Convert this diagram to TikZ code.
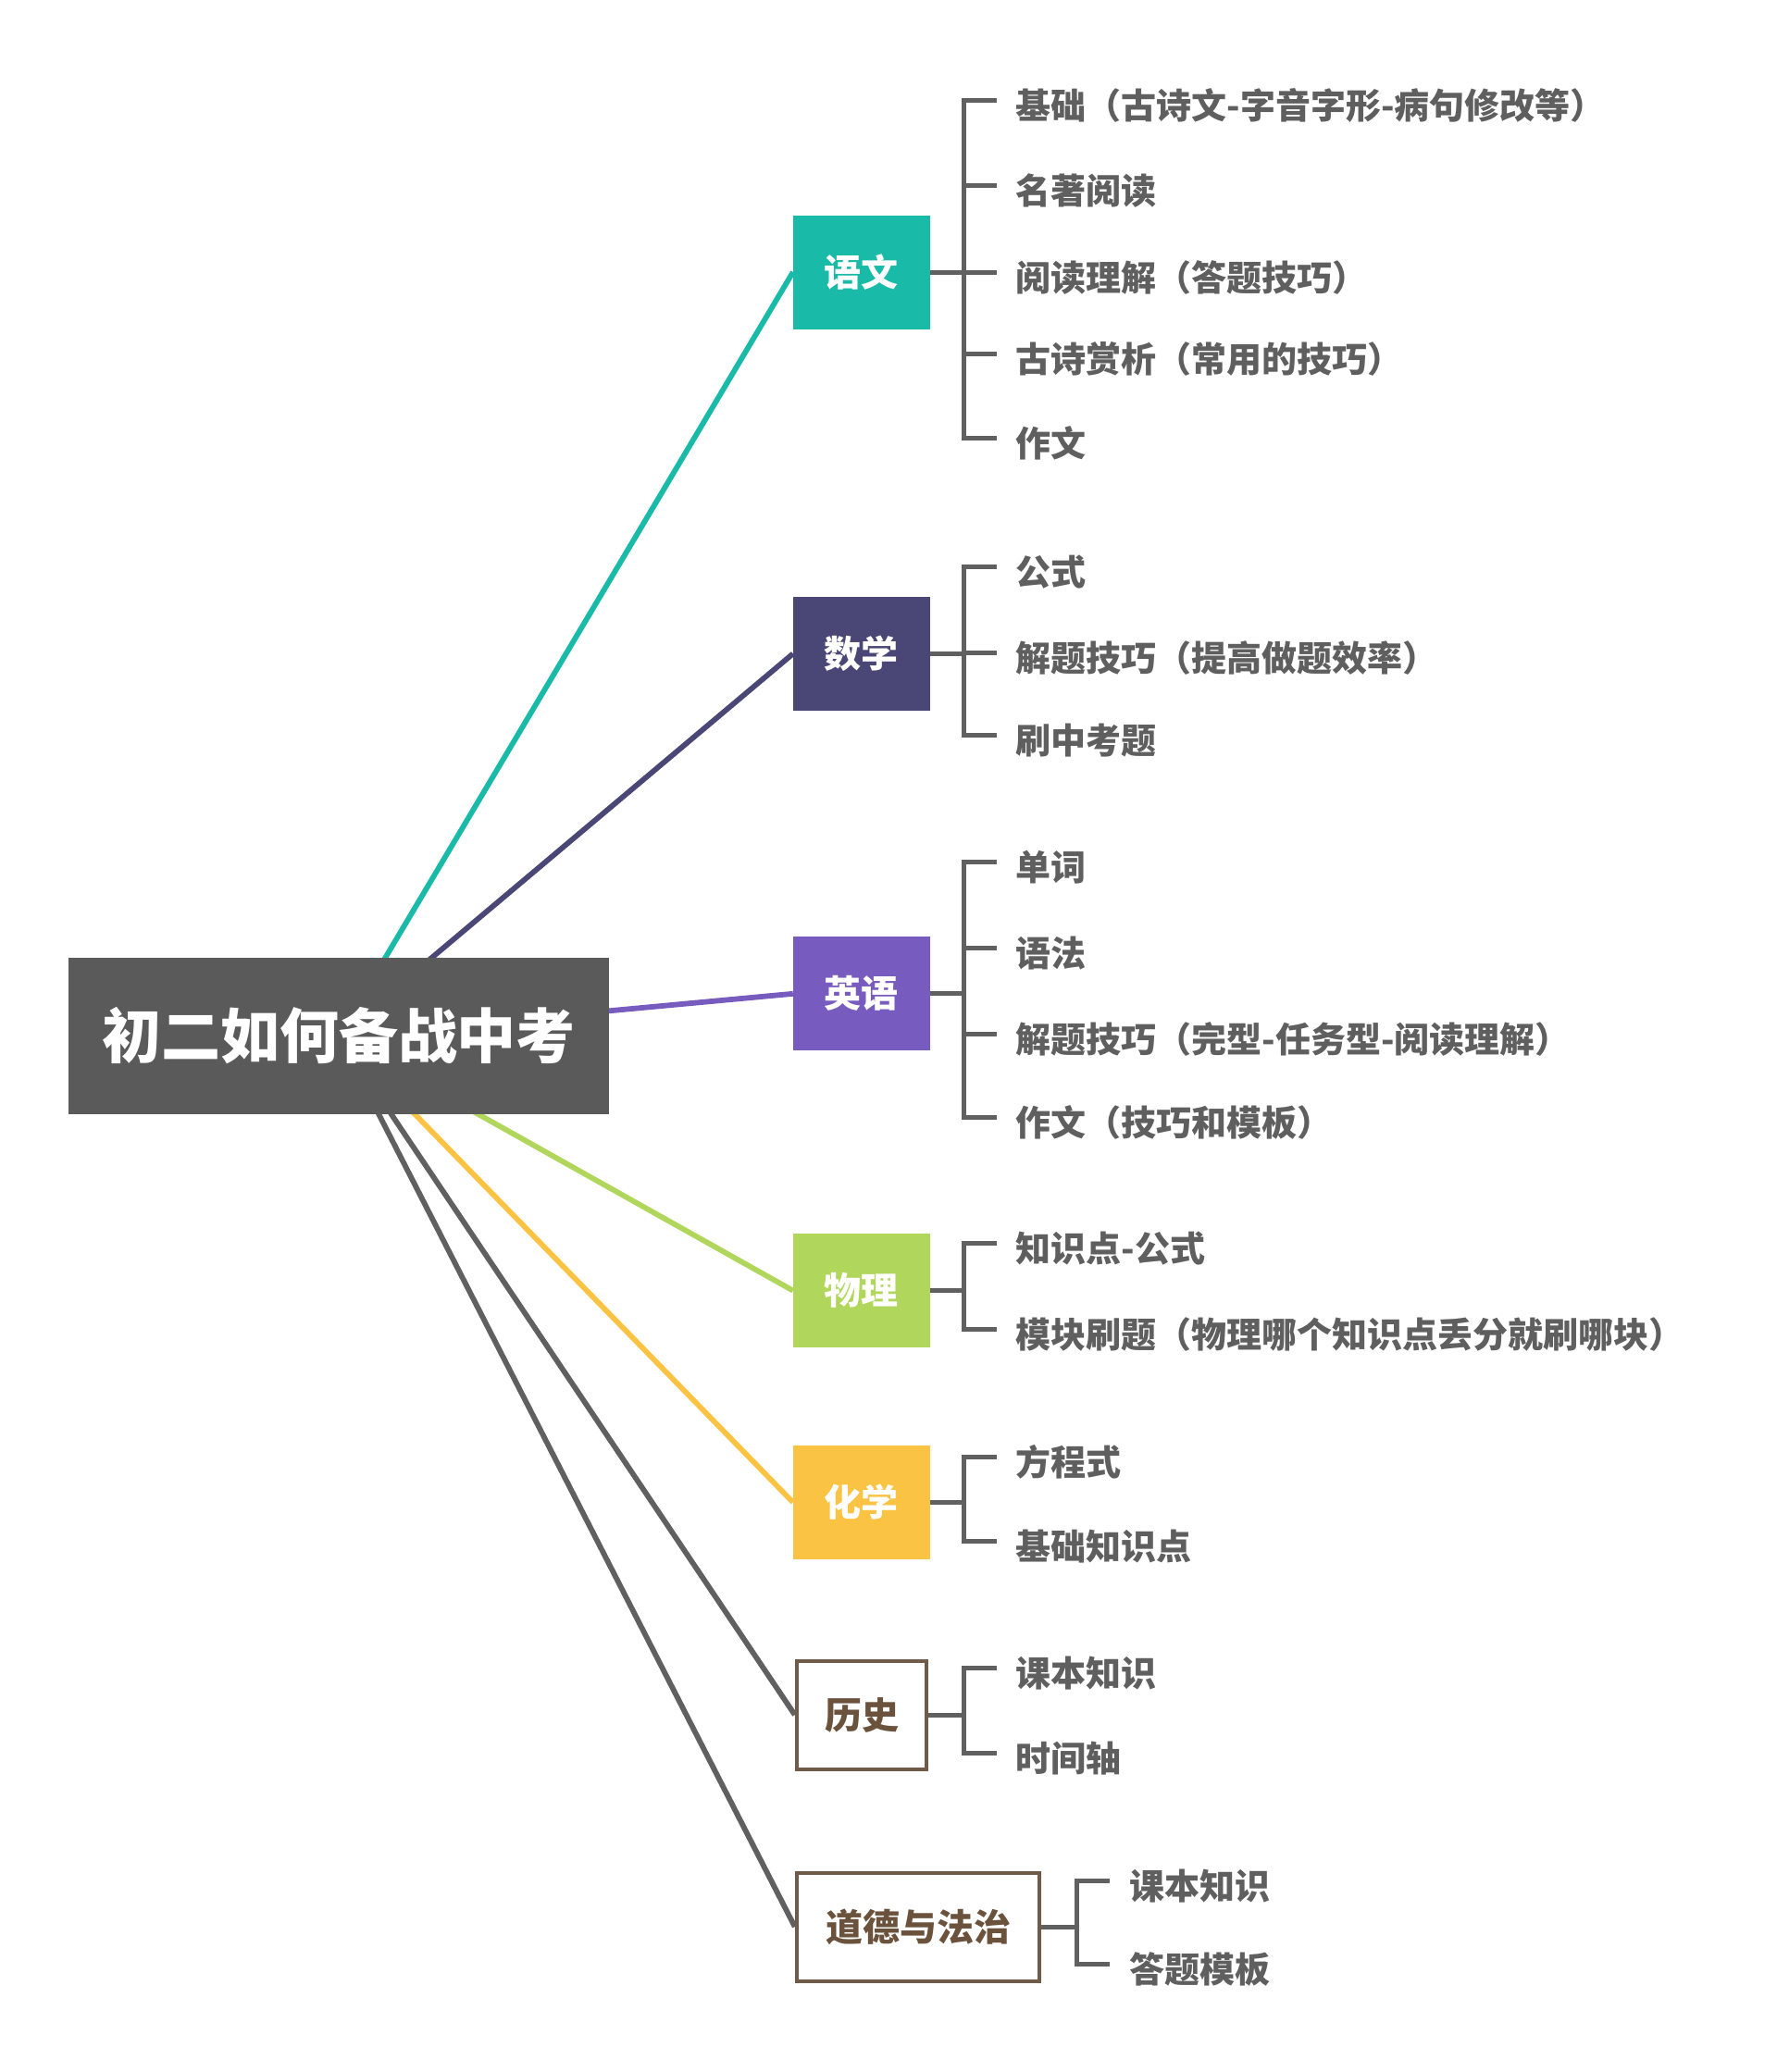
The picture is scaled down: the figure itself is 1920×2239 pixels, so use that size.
\documentclass[tikz,border=0pt]{standalone}
\usepackage{fontspec}
\setmainfont{Noto Sans CJK SC}[BoldFont={Noto Sans CJK SC Black}]
\definecolor{rootgray}{HTML}{5A5A5A}
\definecolor{linegray}{HTML}{606060}
\definecolor{itemtext}{HTML}{5F5F5F}
\definecolor{cteal}{HTML}{1ABAA8}
\definecolor{cnavy}{HTML}{4A4676}
\definecolor{cpurple}{HTML}{785BBE}
\definecolor{cgreen}{HTML}{B0D65B}
\definecolor{cyellow}{HTML}{FBC343}
\definecolor{cbrown}{HTML}{6F5B47}
\definecolor{cbrowntext}{HTML}{6B523C}
\pgfdeclarelayer{bg}
\pgfdeclarelayer{lines}
\pgfsetlayers{bg,lines,main}
\begin{document}
\begin{tikzpicture}[x=1pt,y=-1pt,
  rootbox/.style={rectangle, fill=rootgray, text=white, minimum width=584pt, minimum height=169pt, inner sep=0pt, font=\fontsize{64}{64}\selectfont\bfseries},
  subjbox/.style={rectangle, text=white, minimum width=147.5pt, minimum height=123pt, inner sep=0pt, font=\fontsize{40}{40}\selectfont\bfseries},
  outbox/.style={rectangle, draw=cbrown, line width=4pt, fill=white, text=cbrowntext, minimum height=117pt, inner sep=0pt, font=\fontsize{40}{40}\selectfont\bfseries},
  itemtxt/.style={anchor=west, inner sep=0pt, text=itemtext, font=\fontsize{38}{38}\selectfont\bfseries},
  branch/.style={line width=5.8pt},
  brk/.style={draw=linegray, line width=5pt},
]
\useasboundingbox (0,0) rectangle (1920,2239);
\begin{pgfonlayer}{bg}
\fill[white] (0,0) rectangle (1920,2239);
\end{pgfonlayer}

% root
\node[rootbox] (root) at (366,1119.5) {初二如何备战中考};

% subjects
\node[subjbox, fill=cteal]   (yw) at (930.75,294)    {语文};
\node[subjbox, fill=cnavy]   (sx) at (930.75,706.4)  {数学};
\node[subjbox, fill=cpurple] (yy) at (930.75,1073.8) {英语};
\node[subjbox, fill=cgreen]  (wl) at (930.75,1394.6) {物理};
\node[subjbox, fill=cyellow] (hx) at (930.75,1623.4) {化学};
\node[outbox, minimum width=140.5pt] (ls) at (931,1853) {历史};
\node[outbox, minimum width=262.5pt] (dd) at (992,2082) {道德与法治};

% branches
\begin{pgfonlayer}{lines}
\draw[branch, cteal]   (root.center) -- (yw.west);
\draw[branch, cnavy]   (root.center) -- (sx.west);
\draw[branch, cpurple] (root.center) -- (yy.west);
\draw[branch, cgreen]  (root.center) -- (wl.west);
\draw[branch, cyellow] (root.center) -- (hx.west);
\draw[branch, linegray] (root.center) -- (ls.west);
\draw[branch, linegray] (root.center) -- (dd.west);
\end{pgfonlayer}

% 语文 items
\foreach \y/\t [count=\i] in {108/{基础（古诗文-字音字形-病句修改等）},200/名著阅读,294/{阅读理解（答题技巧）},382/{古诗赏析（常用的技巧）},473/作文}{
  \node[itemtxt] (yw\i) at (1097.5,\y+6) {\t};
  \draw[brk] (1041,\y) -- (1077,\y);
}
\draw[brk] (1077,108) -- (1041,108) -- (1041,473) -- (1077,473);
\draw[brk] (yw.east) -- (1041,294);

% 数学 items
\foreach \y/\t [count=\i] in {612/公式,705/{解题技巧（提高做题效率）},794/刷中考题}{
  \node[itemtxt] (sx\i) at (1097.5,\y+6) {\t};
  \draw[brk] (1041,\y) -- (1077,\y);
}
\draw[brk] (1077,612) -- (1041,612) -- (1041,794) -- (1077,794);
\draw[brk] (sx.east) -- (1041,706.4);

% 英语 items
\foreach \y/\t [count=\i] in {931/单词,1024/语法,1117/{解题技巧（完型-任务型-阅读理解）},1207/{作文（技巧和模板）}}{
  \node[itemtxt] (yy\i) at (1097.5,\y+6) {\t};
  \draw[brk] (1041,\y) -- (1077,\y);
}
\draw[brk] (1077,931) -- (1041,931) -- (1041,1207) -- (1077,1207);
\draw[brk] (yy.east) -- (1041,1073.8);

% 物理 items
\foreach \y/\t [count=\i] in {1343.5/知识点-公式,1436/{模块刷题（物理哪个知识点丢分就刷哪块）}}{
  \node[itemtxt] (wl\i) at (1097.5,\y+6) {\t};
}
\draw[brk] (1077,1343.5) -- (1041,1343.5) -- (1041,1436) -- (1077,1436);
\draw[brk] (wl.east) -- (1041,1394.6);

% 化学 items
\foreach \y/\t [count=\i] in {1574/方程式,1665/基础知识点}{
  \node[itemtxt] (hx\i) at (1097.5,\y+6) {\t};
}
\draw[brk] (1077,1574) -- (1041,1574) -- (1041,1665) -- (1077,1665);
\draw[brk] (hx.east) -- (1041,1623.4);

% 历史 items
\foreach \y/\t [count=\i] in {1802/课本知识,1894/时间轴}{
  \node[itemtxt] (ls\i) at (1097.5,\y+6) {\t};
}
\draw[brk] (1077,1802) -- (1041,1802) -- (1041,1894) -- (1077,1894);
\draw[brk] (ls.east) -- (1041,1853);

% 道德与法治 items
\foreach \y/\t [count=\i] in {2032/课本知识,2122/答题模板}{
  \node[itemtxt] (dd\i) at (1220.5,\y+6) {\t};
}
\draw[brk] (1199,2032) -- (1163,2032) -- (1163,2122) -- (1199,2122);
\draw[brk] (dd.east) -- (1163,2082);
\end{tikzpicture}
\end{document}
